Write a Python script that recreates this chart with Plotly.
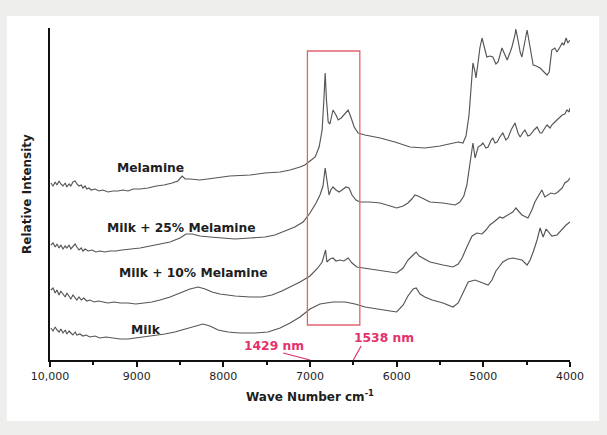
import plotly.graph_objects as go

# ---- data (wavenumber cm-1, relative intensity in arbitrary units) ----
mel_x = [9990, 9965, 9940, 9920, 9895, 9875, 9850, 9825, 9805, 9780, 9760, 9735, 9710, 9690, 9665, 9640,
         9620, 9595, 9575, 9550, 9525, 9480, 9435, 9390, 9330, 9275, 9215, 9160, 9100, 9040, 8960, 8870,
         8775, 8685, 8590, 8525, 8475, 8440, 8385, 8270, 8095, 7925, 7690, 7520, 7345, 7230, 7115, 7060,
         7000, 6940, 6895, 6860, 6840, 6825, 6810, 6790, 6770, 6735, 6700, 6675, 6640, 6595, 6560, 6525,
         6490, 6445, 6365, 6190, 6020, 5845, 5675, 5500, 5360, 5290, 5235, 5200, 5165, 5140, 5120, 5095,
         5085, 5060, 5040, 5015, 4980, 4960, 4925, 4890, 4855, 4830, 4785, 4750, 4725, 4690, 4670, 4635,
         4625, 4600, 4575, 4555, 4530, 4495, 4475, 4450, 4425, 4390, 4345, 4300, 4265, 4240, 4210, 4175,
         4150, 4115, 4090, 4070, 4045, 4025, 4000]
mel_y = [177, 174, 178, 175, 179, 176, 174, 177, 173, 176, 174, 178, 179, 176, 174, 175,
         172, 174, 171, 172, 170, 171, 169, 170, 168, 169, 169, 170, 169, 171, 171, 172,
         174, 175, 177, 179, 184, 181, 181, 180, 182, 184, 185, 187, 188, 190, 193, 195,
         199, 203, 213, 230, 260, 287, 260, 238, 236, 250, 245, 240, 242, 247, 250, 242,
         233, 227, 225, 222, 218, 213, 212, 214, 217, 218, 217, 224, 245, 280, 297, 288,
         282, 298, 312, 322, 310, 303, 304, 303, 296, 298, 312, 305, 300, 308, 313, 325,
         331, 320, 308, 303, 315, 330, 320, 305, 295, 294, 292, 288, 285, 288, 310, 312,
         308, 313, 317, 315, 322, 317, 320]

m25_x = [9990, 9965, 9940, 9920, 9895, 9875, 9850, 9825, 9805, 9780, 9760, 9735, 9710, 9690, 9665, 9640,
         9620, 9595, 9560, 9515, 9470, 9425, 9365, 9310, 9240, 9170, 9075, 8960, 8845, 8730, 8615, 8500,
         8430, 8360, 8270, 8155, 8040, 7865, 7690, 7520, 7405, 7290, 7175, 7080, 7000, 6930, 6885, 6850,
         6825, 6805, 6780, 6760, 6735, 6700, 6665, 6630, 6585, 6550, 6515, 6470, 6425, 6310, 6190, 6075,
         6000, 5925, 5870, 5825, 5790, 5755, 5710, 5615, 5465, 5325, 5270, 5225, 5190, 5155, 5120, 5095,
         5060, 5025, 5005, 4970, 4945, 4910, 4890, 4865, 4840, 4810, 4775, 4740, 4715, 4680, 4635, 4600,
         4575, 4540, 4520, 4485, 4460, 4415, 4380, 4345, 4325, 4290, 4265, 4230, 4210, 4175, 4150, 4115,
         4090, 4060, 4035, 4010, 4000]
m25_y = [115, 117, 113, 116, 112, 115, 111, 114, 112, 115, 111, 113, 116, 113, 110, 112,
         109, 111, 109, 110, 108, 109, 108, 109, 109, 110, 111, 112, 114, 116, 118, 122,
         126, 126, 124, 123, 122, 121, 122, 123, 125, 129, 133, 138, 147, 157, 165, 174,
         192, 180, 165, 170, 173, 170, 168, 170, 173, 172, 165, 160, 158, 158, 157, 154,
         152, 154, 157, 161, 165, 164, 162, 158, 157, 155, 158, 164, 175, 195, 217, 202,
         213, 215, 217, 212, 213, 220, 222, 217, 218, 223, 227, 220, 222, 230, 237, 227,
         223, 228, 230, 224, 225, 230, 233, 227, 227, 232, 235, 232, 235, 238, 240, 242,
         245, 246, 250, 248, 252]

m10_x = [9990, 9965, 9940, 9920, 9895, 9875, 9850, 9825, 9805, 9780, 9760, 9735, 9710, 9690, 9665, 9640,
         9610, 9575, 9540, 9490, 9445, 9390, 9330, 9260, 9190, 9100, 9010, 8915, 8825, 8730, 8615, 8500,
         8385, 8290, 8210, 8130, 8040, 7865, 7690, 7555, 7440, 7325, 7210, 7115, 7000, 6910, 6860, 6840,
         6820, 6805, 6770, 6735, 6700, 6655, 6610, 6560, 6515, 6460, 6310, 6135, 6000, 5925, 5870, 5810,
         5775, 5740, 5695, 5615, 5465, 5350, 5290, 5245, 5190, 5130, 5075, 5015, 4970, 4925, 4865, 4810,
         4775, 4715, 4660, 4625, 4590, 4555, 4485, 4440, 4405, 4360, 4325, 4290, 4255, 4220, 4175, 4140,
         4090, 4060, 4025, 4000]
m10_y = [70, 72, 67, 70, 65, 69, 66, 63, 67, 64, 61, 65, 62, 60, 63, 60,
         62, 59, 60, 58, 59, 58, 57, 58, 57, 57, 56, 57, 58, 60, 63, 67,
         71, 73, 71, 68, 66, 64, 63, 63, 65, 69, 74, 78, 84, 92, 98, 104,
         110, 98, 101, 102, 99, 100, 99, 102, 97, 93, 91, 89, 87, 92, 100, 105,
         108, 104, 102, 98, 95, 93, 96, 102, 113, 124, 127, 126, 130, 135, 139, 143,
         142, 145, 148, 152, 148, 145, 142, 150, 158, 165, 170, 163, 165, 167, 166, 168,
         172, 177, 179, 182]

milk_x = [9990, 9965, 9940, 9920, 9895, 9875, 9850, 9825, 9805, 9780, 9760, 9735, 9710, 9690, 9655, 9620,
          9585, 9540, 9480, 9425, 9355, 9285, 9190, 9100, 9010, 8905, 8790, 8675, 8560, 8440, 8325, 8235,
          8155, 8060, 7945, 7810, 7635, 7485, 7345, 7230, 7115, 7000, 6885, 6735, 6595, 6480, 6365, 6190,
          6075, 6000, 5925, 5870, 5810, 5775, 5730, 5675, 5590, 5465, 5350, 5290, 5235, 5175, 5095, 5015,
          4945, 4900, 4855, 4775, 4715, 4660, 4600, 4555, 4495, 4460, 4425, 4380, 4345, 4310, 4275, 4240,
          4210, 4150, 4090, 4045, 4000]
milk_y = [32, 29, 33, 30, 28, 31, 27, 30, 26, 29, 27, 25, 28, 25, 26, 24,
          25, 23, 24, 22, 23, 22, 21, 21, 22, 23, 24, 26, 28, 31, 34, 36,
          34, 30, 28, 27, 27, 28, 32, 37, 43, 51, 56, 58, 58, 56, 53, 51,
          49, 48, 55, 64, 71, 72, 66, 63, 60, 57, 53, 57, 67, 78, 80, 77,
          75, 80, 89, 98, 101, 102, 101, 100, 95, 100, 108, 120, 132, 123, 131, 127,
          124, 125, 131, 135, 138]

series = [("Melamine", mel_x, mel_y), ("Milk + 25% Melamine", m25_x, m25_y),
          ("Milk + 10% Melamine", m10_x, m10_y), ("Milk", milk_x, milk_y)]

tick_vals = [10000, 9000, 8000, 7000, 6000, 5000, 4000]
tick_text = ["10,000", "9000", "8000", "7000", "6000", "5000", "4000"]
minor_vals = [9500, 8500, 7500, 6500, 5500, 4500]

label_names = ["Melamine", "Milk + 25% Melamine", "Milk + 10% Melamine", "Milk"]
label_x = [8835, 8477, 8350, 8892]
label_y = [192, 132, 87, 30]

band_lo, band_hi = 6425, 7030   # highlighted region (cm-1)
nm_labels = ["1429 nm", "1538 nm"]
nm_text_x = [7415, 6146]
nm_text_y = [14, 22]
nm_point_x = [7000, 6500]

FONT = "DejaVu Sans"
RED = "#e2336b"

fig = go.Figure()
for name, xs, ys in series:
    fig.add_trace(go.Scatter(x=xs, y=ys, mode="lines", name=name,
                             line=dict(color="#555555", width=1.15), showlegend=False))

for t, x, y in zip(label_names, label_x, label_y):
    fig.add_annotation(x=x, y=y, text="<b>%s</b>" % t, showarrow=False,
                       font=dict(family=FONT, size=12.3, color="#1e1e1e"))

for t, x, y in zip(nm_labels, nm_text_x, nm_text_y):
    fig.add_annotation(x=x, y=y, text="<b>%s</b>" % t, showarrow=False,
                       font=dict(family=FONT, size=12.3, color=RED))

# pointer lines from labels to the axis
fig.add_shape(type="line", x0=7310, y0=7, x1=nm_point_x[0], y1=0, line=dict(color=RED, width=1.2))
fig.add_shape(type="line", x0=6410, y0=14, x1=nm_point_x[1], y1=0, line=dict(color=RED, width=1.2))

# highlight box
fig.add_shape(type="rect", x0=band_hi, x1=band_lo, y0=35, y1=309,
              line=dict(color="#e06470", width=1.3), fillcolor="rgba(0,0,0,0)")

# white panel on grey page
fig.add_shape(type="rect", xref="paper", yref="paper", x0=-0.083, x1=1.056, y0=-0.184, y1=1.036,
              line=dict(width=0), fillcolor="white", layer="below")

fig.update_layout(
    width=607, height=435,
    margin=dict(l=50, r=37, t=28, b=75),
    paper_bgcolor="#eeeeec", plot_bgcolor="rgba(0,0,0,0)",
    font=dict(family=FONT, color="#1e1e1e"),
    xaxis=dict(range=[10000, 4000], showgrid=False, zeroline=False,
               showline=True, linecolor="#111111", linewidth=2,
               tickmode="array", tickvals=tick_vals, ticktext=tick_text,
               ticks="outside", ticklen=5, tickwidth=2, tickcolor="#111111",
               minor=dict(tickvals=minor_vals, ticks="outside", ticklen=3, tickwidth=2, tickcolor="#111111"),
               tickfont=dict(family=FONT, size=11, color="#1e1e1e"),
               title=dict(text="<b>Wave Number cm<sup>-1</sup></b>", standoff=10,
                          font=dict(family=FONT, size=12, color="#1e1e1e"))),
    yaxis=dict(range=[0, 332], showgrid=False, zeroline=False,
               showline=True, linecolor="#111111", linewidth=2,
               showticklabels=False, ticks="",
               title=dict(text="<b>Relative Intensity</b>", standoff=14,
                          font=dict(family=FONT, size=12, color="#1e1e1e"))),
)

fig.write_html("out.html", config={"displayModeBar": False},
               post_script="document.body.style.margin='0';document.body.style.overflow='hidden';")
